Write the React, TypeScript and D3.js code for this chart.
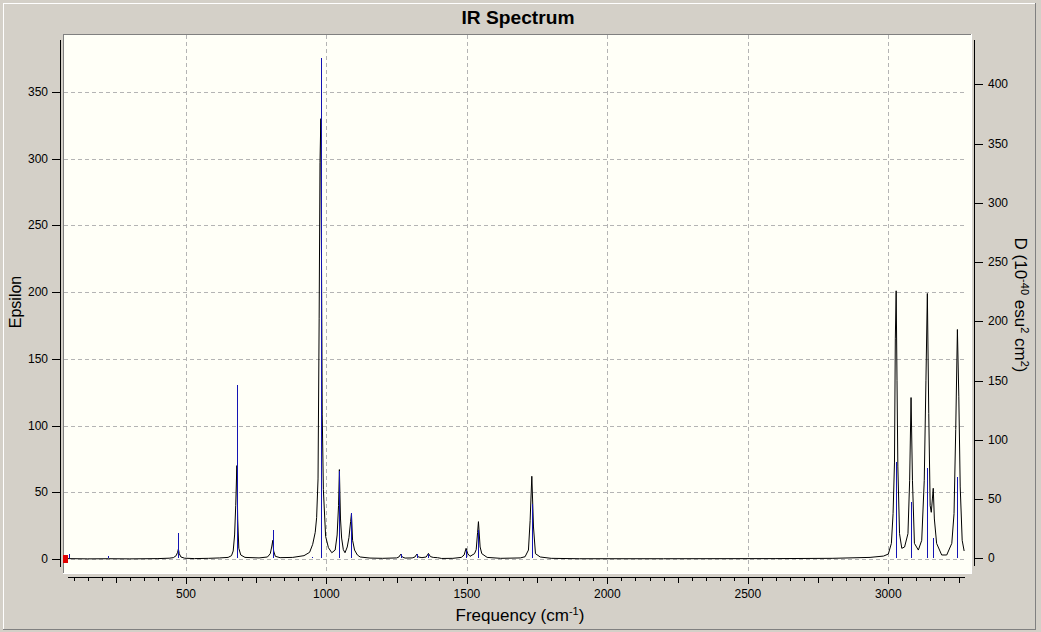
import * as d3 from "d3"

// black curve (epsilon)
const curveFreq = [
  77, 150, 224, 300, 400, 440, 455, 465, 470, 473, 476, 482, 495, 530, 580, 620, 650, 662, 668, 673, 677, 681, 684,
  688, 695, 710, 760, 790, 800, 805, 809, 812, 818, 835, 880, 920, 940, 951, 960, 965, 970, 974, 977, 980, 982, 985,
  989, 997, 1007, 1019, 1031, 1038, 1043, 1046, 1050, 1054, 1060, 1066, 1074, 1080, 1086, 1089, 1093, 1100, 1110,
  1120, 1155, 1200, 1250, 1258, 1264, 1270, 1280, 1305, 1315, 1321, 1327, 1340, 1355, 1363, 1370, 1380, 1395, 1410,
  1450, 1480, 1490, 1497, 1503, 1511, 1527, 1533, 1538, 1541, 1547, 1553, 1572, 1620, 1690, 1707, 1719, 1725, 1731,
  1737, 1744, 1761, 1800, 1900, 2200, 2600, 2800, 2935, 2983, 3000, 3011, 3017, 3022, 3025, 3028, 3031, 3034, 3040,
  3048, 3058, 3070, 3076, 3081, 3086, 3093, 3107, 3119, 3128, 3134, 3139, 3144, 3149, 3153, 3157, 3160, 3164, 3172,
  3190, 3208, 3226, 3234, 3240, 3246, 3251, 3256, 3263, 3270,
]
const curveEps = [
  0.3, 0.1, 0.2, 0.1, 0.3, 0.6, 1, 2.5, 5, 7.5, 4, 1.5, 0.6, 0.3, 0.5, 0.8, 1.2, 2.5, 6, 18, 40, 70, 30, 8, 3, 1.2,
  0.8, 1.5, 4, 9, 14, 6, 2, 1, 1.2, 2.5, 5, 11, 20, 31, 60, 180, 297, 330, 240, 108, 52, 17, 8.5, 4.7, 6.7, 18, 40, 67,
  30, 15.7, 7, 4.7, 9, 16, 28, 34, 14, 6.7, 3, 1.5, 0.7, 0.5, 0.8, 1.5, 3.5, 1.5, 0.7, 0.8, 1.5, 3.5, 1.5, 1, 1.5, 4.2,
  1.8, 1.2, 1, 0.4, 0.5, 1.2, 3, 8, 4, 2, 4, 7, 20, 28, 9, 4, 1.2, 0.5, 0.8, 1.7, 6.7, 29, 62, 24, 4, 1.5, 0.5, 0.2,
  0.2, 0.3, 0.5, 1.2, 2.2, 3.7, 11.7, 34, 72, 165, 201, 134, 69, 19, 8, 9, 19, 59, 121, 59, 11.7, 6.7, 14, 59, 134,
  199, 109, 40, 35, 45, 53, 30, 11.7, 3, 3, 11.7, 34, 97, 172, 122, 54, 14, 6,
]

// blue sticks (dipole strength D)
const stickFreq = [84, 224, 473, 681, 808, 947, 979, 982, 1046, 1089, 1264, 1321, 1363, 1497, 1541, 1731, 3028, 3081, 3139, 3160, 3246]
const stickD = [4, 2.2, 21.6, 146, 23.9, 1.4, 422, 268, 74, 38, 3.6, 3.3, 3.9, 7, 24, 46, 81.5, 47.8, 76, 17, 69]

const xLabelTicks = [500, 1000, 1500, 2000, 2500, 3000]
const leftTicks = [0, 50, 100, 150, 200, 250, 300, 350]
const rightTicks = [0, 50, 100, 150, 200, 250, 300, 350, 400]

const W = 1041
const H = 632
const FONT = "'Liberation Sans', Arial, sans-serif"
const plot = { left: 63, right: 972, top: 34, bottom: 574 }

export default function App() {
  const x = d3.scaleLinear().domain([500, 3000]).range([186, 888.3])
  const yL = d3.scaleLinear().domain([0, 350]).range([559, 92])
  const yR = d3.scaleLinear().domain([0, 400]).range([558.3, 84.3])

  const pts = curveFreq.map((f, i) => [f, curveEps[i]] as [number, number])
  const line = d3
    .line<[number, number]>()
    .x((d) => x(d[0]))
    .y((d) => yL(d[1]))

  const minorTicks = d3.range(100, 3251, 50)

  return (
    <svg width={W} height={H} style={{ position: "absolute", left: 0, top: 0 }} fontFamily={FONT}>
      <rect x={0} y={0} width={W} height={H} fill="#d4d0c8" />
      {/* window bevel */}
      <line x1={3} y1={3.5} x2={1036} y2={3.5} stroke="#ffffff" />
      <line x1={3.5} y1={3} x2={3.5} y2={629} stroke="#ffffff" />
      <line x1={1035.5} y1={3} x2={1035.5} y2={629} stroke="#808080" />
      <line x1={3} y1={629.5} x2={1036} y2={629.5} stroke="#808080" />

      <text x={518} y={24} textAnchor="middle" fontSize={18} fontWeight="bold" textLength={113} lengthAdjust="spacingAndGlyphs">
        IR Spectrum
      </text>

      {/* plot area */}
      <rect x={plot.left} y={plot.top} width={plot.right - plot.left} height={plot.bottom - plot.top} fill="#fffff7" />
      <line x1={plot.left} y1={plot.top + 0.5} x2={plot.right} y2={plot.top + 0.5} stroke="#808080" />
      <line x1={plot.left + 0.5} y1={plot.top} x2={plot.left + 0.5} y2={plot.bottom} stroke="#808080" />
      <line x1={plot.left} y1={plot.bottom - 0.5} x2={plot.right} y2={plot.bottom - 0.5} stroke="#ffffff" />
      <line x1={plot.right - 0.5} y1={plot.top} x2={plot.right - 0.5} y2={plot.bottom} stroke="#ffffff" />

      {/* grid */}
      <g stroke="#b4b4b4" strokeDasharray="4,3" strokeWidth={1}>
        {leftTicks.map((t) => (
          <line key={"h" + t} x1={plot.left + 1} x2={967} y1={Math.round(yL(t)) + 0.5} y2={Math.round(yL(t)) + 0.5} />
        ))}
        {xLabelTicks.map((t) => (
          <line key={"v" + t} x1={Math.round(x(t)) + 0.5} x2={Math.round(x(t)) + 0.5} y1={plot.top + 1} y2={plot.bottom - 1} />
        ))}
      </g>

      {/* spectrum */}
      <path d={line(pts) ?? ""} fill="none" stroke="#000000" strokeWidth={1} />

      {/* sticks */}
      <g stroke="#1414b4" strokeWidth={1} shapeRendering="crispEdges">
        {stickFreq.map((f, i) => (
          <line key={"s" + i} x1={Math.round(x(f)) + 0.5} x2={Math.round(x(f)) + 0.5} y1={yR(0)} y2={yR(stickD[i])} />
        ))}
      </g>

      <rect x={63} y={555} width={5} height={8} fill="#e00000" />

      {/* left axis */}
      <line x1={60.5} x2={60.5} y1={40} y2={567} stroke="#000" />
      {leftTicks.map((t) => (
        <g key={"l" + t}>
          <line x1={52} x2={60} y1={Math.round(yL(t)) + 0.5} y2={Math.round(yL(t)) + 0.5} stroke="#000" />
          <text x={48} y={yL(t) + 4} textAnchor="end" fontSize={12}>
            {t}
          </text>
        </g>
      ))}

      {/* right axis */}
      <line x1={974.5} x2={974.5} y1={40} y2={566} stroke="#000" />
      {rightTicks.map((t) => (
        <g key={"r" + t}>
          <line x1={975} x2={983} y1={Math.round(yR(t)) + 0.5} y2={Math.round(yR(t)) + 0.5} stroke="#000" />
          <text x={988} y={yR(t) + 4} textAnchor="start" fontSize={12}>
            {t}
          </text>
        </g>
      ))}

      {/* bottom axis */}
      <line x1={68} x2={965} y1={577.5} y2={577.5} stroke="#000" />
      {minorTicks.map((t) => {
        const len = t % 500 === 0 ? 7 : t % 250 === 0 ? 6 : 4
        return (
          <line key={"b" + t} x1={Math.round(x(t)) + 0.5} x2={Math.round(x(t)) + 0.5} y1={577} y2={577 + len} stroke="#000" />
        )
      })}
      {xLabelTicks.map((t) => (
        <text key={"bl" + t} x={x(t)} y={598} textAnchor="middle" fontSize={12}>
          {t}
        </text>
      ))}

      {/* axis titles */}
      <text x={520} y={621} textAnchor="middle" fontSize={17}>
        Frequency (cm<tspan fontSize={11} dy={-6}>-1</tspan>
        <tspan dy={6}>)</tspan>
      </text>
      <text transform="translate(21,302) rotate(-90)" textAnchor="middle" fontSize={16}>
        Epsilon
      </text>
      <text transform="translate(1015,305) rotate(90)" textAnchor="middle" fontSize={17}>
        D (10<tspan fontSize={11} dy={-6}>-40</tspan>
        <tspan dy={6}> esu</tspan>
        <tspan fontSize={11} dy={-6}>2</tspan>
        <tspan dy={6}> cm</tspan>
        <tspan fontSize={11} dy={-6}>2</tspan>
        <tspan dy={6}>)</tspan>
      </text>
    </svg>
  )
}
